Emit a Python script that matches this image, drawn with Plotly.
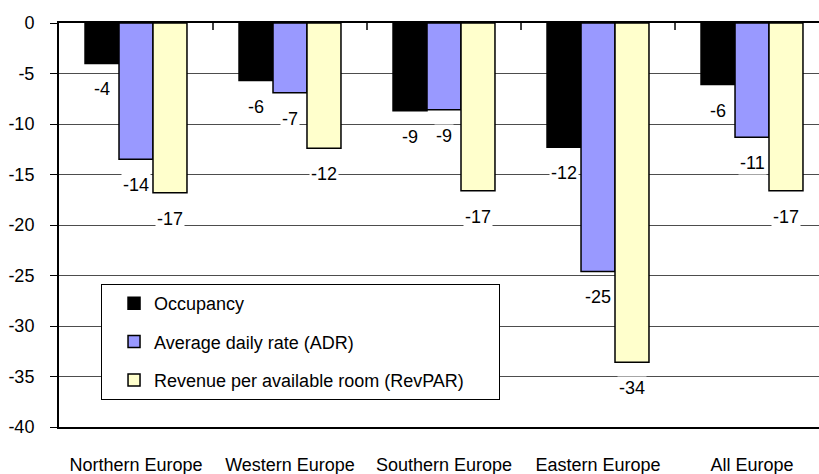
import plotly.graph_objects as go

categories = ["Northern Europe", "Western Europe", "Southern Europe", "Eastern Europe", "All Europe"]
occupancy = [-4.0, -5.7, -8.7, -12.3, -6.1]
adr = [-13.5, -6.9, -8.6, -24.6, -11.3]
revpar = [-16.8, -12.4, -16.6, -33.6, -16.6]
series_names = ["Occupancy", "Average daily rate (ADR)", "Revenue per available room (RevPAR)"]
series_colors = ["#000000", "#9999FF", "#FFFFCC"]
y_ticks = [0, -5, -10, -15, -20, -25, -30, -35, -40]

FONT = "Liberation Sans, Arial, sans-serif"
BARGAP = 0.338
PAD = "\u00a0" * 6

fig = go.Figure()
all_series = [occupancy, adr, revpar]
for k, (name, vals, col) in enumerate(zip(series_names, all_series, series_colors)):
    fig.add_trace(go.Bar(
        x=categories, y=vals, name=name + (PAD if k == 2 else ""), legendgroup=name,
        marker=dict(color=col, line=dict(color="#000000", width=1.5)),
    ))

# data labels below each bar end, with white background
bw = (1 - BARGAP) / 3
for j, vals in enumerate(all_series):
    for i, v in enumerate(vals):
        fig.add_annotation(
            x=i + (j - 1) * bw, y=v, xref="x", yref="y",
            text="%.0f" % v, showarrow=False, yshift=-26,
            bgcolor="white", borderpad=1,
            font=dict(family=FONT, size=18, color="black"),
        )

# category-boundary tick marks hanging from the zero line (top)
for i in range(len(categories) - 1):
    fig.add_shape(
        type="line", xref="x", x0=i + 0.5, x1=i + 0.5,
        yref="paper", ysizemode="pixel", yanchor=1, y0=0, y1=-7,
        line=dict(color="black", width=1.5), layer="above",
    )

fig.update_layout(
    width=819, height=474,
    margin=dict(l=59, r=0, t=23, b=47),
    paper_bgcolor="white", plot_bgcolor="white",
    barmode="group", bargap=BARGAP, bargroupgap=0,
    font=dict(family=FONT, size=18, color="black"),
    showlegend=True,
    legend=dict(
        x=0.0553, y=0.354, xanchor="left", yanchor="top",
        bgcolor="white", bordercolor="black", borderwidth=1,
        font=dict(family=FONT, size=18, color="black"),
        traceorder="grouped", tracegroupgap=12, indentation=12,
    ),
    xaxis=dict(
        type="category", range=[-0.5, 4.435],
        showline=True, linecolor="black", linewidth=2, mirror=True,
        ticks="outside", ticklen=0, tickcolor="rgba(0,0,0,0)",
        ticklabelstandoff=20, showgrid=False, zeroline=False,
        tickfont=dict(family=FONT, size=18, color="black"),
    ),
    yaxis=dict(
        range=[-40, 0], tickvals=y_ticks, ticktext=[str(t) for t in y_ticks],
        showline=True, linecolor="black", linewidth=2,
        ticks="outside", ticklen=7, tickwidth=1, tickcolor="black",
        ticklabelstandoff=12,
        showgrid=True, gridcolor="#4d4d4d", gridwidth=1, zeroline=False,
        tickfont=dict(family=FONT, size=18, color="black"),
    ),
)

fig.write_html("out.html")
